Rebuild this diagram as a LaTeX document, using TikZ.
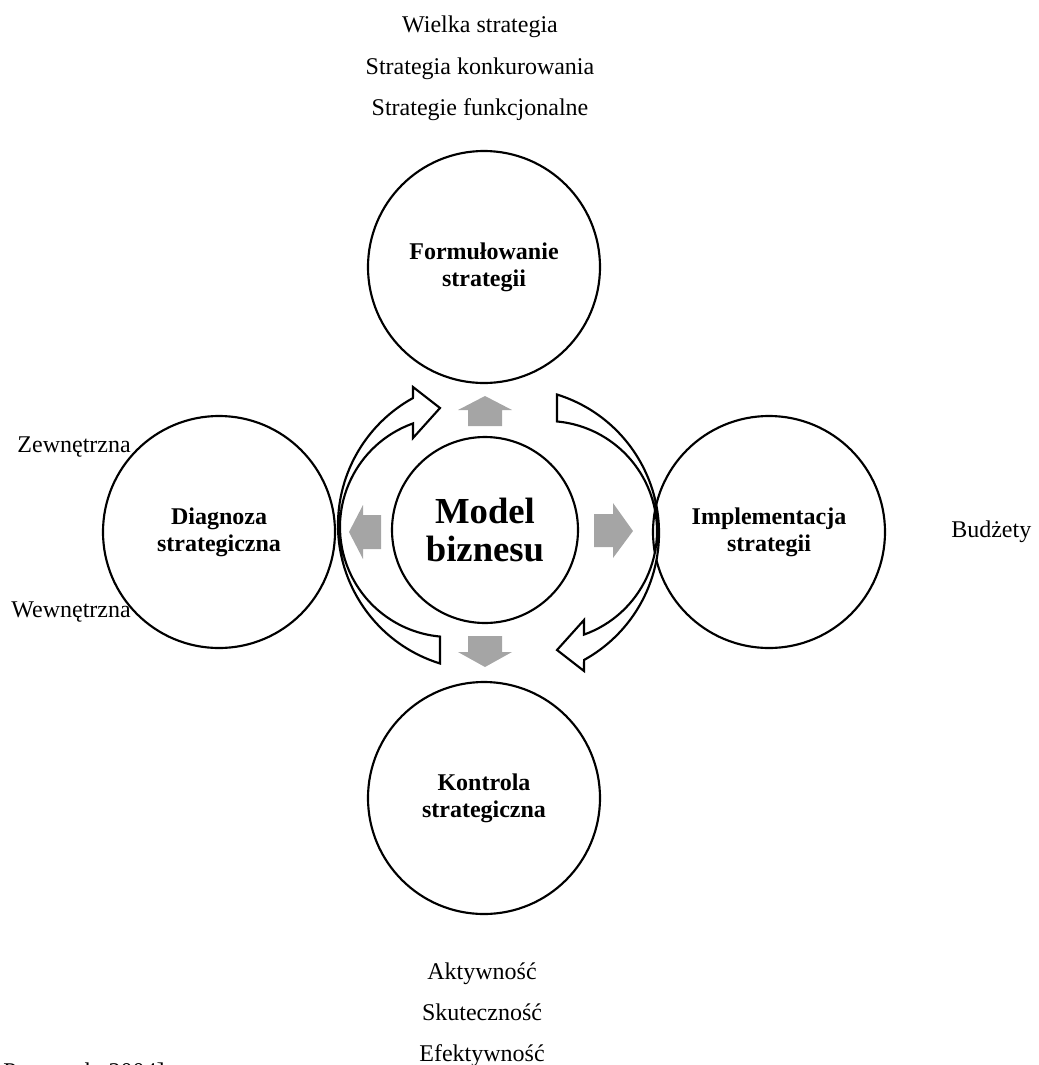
\documentclass[tikz,border=0pt]{standalone}
\usepackage{fontspec}
\setmainfont{Liberation Serif}
\usetikzlibrary{calc}
\definecolor{blockgray}{RGB}{165,165,165}
\tikzset{
  stage/.style={circle, draw=black, line width=1.6pt, fill=white,
    minimum size=174pt, inner sep=0pt, align=center,
    font=\fontsize{18}{20}\selectfont\bfseries},
  hub/.style={circle, draw=black, line width=1.6pt, fill=white,
    minimum size=139.5pt, inner sep=0pt, align=center,
    font=\fontsize{27.5}{28}\selectfont\bfseries},
  note/.style={inner sep=0pt, font=\fontsize{18}{20}\selectfont},
  blockarrow/.style={fill=blockgray, draw=none},
  cyclearrow/.style={draw=black, line width=1.6pt, fill=white, line join=miter}
}
\begin{document}
\begin{tikzpicture}[x=0.75pt, y=-0.75pt]
\useasboundingbox (0,0) rectangle (1039,1065);
\clip (0,0) rectangle (1039,1065);

% four stages of the cycle
\node[stage] (form)  at (484,267) {Formułowanie\\strategii};
\node[stage] (diag)  at (219,532) {Diagnoza\\strategiczna};
\node[stage] (impl)  at (769,532) {Implementacja\\strategii};
\node[stage] (kontr) at (484,798) {Kontrola\\strategiczna};

% centres of the two curved cycle arrows
\coordinate (o1) at (483,525);
\coordinate (i1) at (450,527);
\coordinate (o2) at (514,533);
\coordinate (i2) at (547,531);

% left curved arrow: from the bottom, round the left, towards formulation
\draw[cyclearrow] ($(o1)+(107.25:145)$) arc[start angle=107.25, end angle=241.1, radius=145]
  -- (413,387) -- (440,408) -- (413,438)
  -- ($(i1)+(250.35:110)$) arc[start angle=250.35, end angle=95.2, radius=110] -- cycle;

% right curved arrow: from the top, round the right, towards control
\draw[cyclearrow] ($(o2)+(287.25:145)$) arc[start angle=287.25, end angle=421.1, radius=145]
  -- (584,671) -- (557,650) -- (584,620)
  -- ($(i2)+(70.35:110)$) arc[start angle=70.35, end angle=-84.8, radius=110] -- cycle;

% central business model
\node[hub] (model) at (485,530) {Model\\biznesu};

% grey block arrows pointing out of the centre
\fill[blockarrow] (485,396) -- (512,410) -- (502,410) -- (502,426) -- (468,426) -- (468,410) -- (458,410) -- cycle;
\fill[blockarrow] (468,636) -- (502,636) -- (502,652) -- (512,652) -- (485,667) -- (458,652) -- (468,652) -- cycle;
\fill[blockarrow] (349,532) -- (363,505) -- (363,515) -- (381,515) -- (381,549) -- (363,549) -- (363,559) -- cycle;
\fill[blockarrow] (594,514) -- (613,514) -- (613,503) -- (633,531) -- (613,558) -- (613,547) -- (594,547) -- cycle;

% annotations around the stages
\node[note, anchor=base] (t1) at (480,32)  {Wielka strategia};
\node[note, anchor=base] (t2) at (480,74)  {Strategia konkurowania};
\node[note, anchor=base] (t3) at (480,115) {Strategie funkcjonalne};

\node[note, anchor=base east] (d1) at (131,452) {Zewnętrzna};
\node[note, anchor=base east] (d2) at (131,617) {Wewnętrzna};

\node[note, anchor=base west] (b1) at (951,537) {Budżety};

\node[note, anchor=base] (k1) at (482,979)  {Aktywność};
\node[note, anchor=base] (k2) at (482,1020) {Skuteczność};
\node[note, anchor=base] (k3) at (482,1061) {Efektywność};

% source line running off the lower edge
\node[note, anchor=base east] (src) at (165,1079) {Pasternak, 2004]};
\end{tikzpicture}
\end{document}
